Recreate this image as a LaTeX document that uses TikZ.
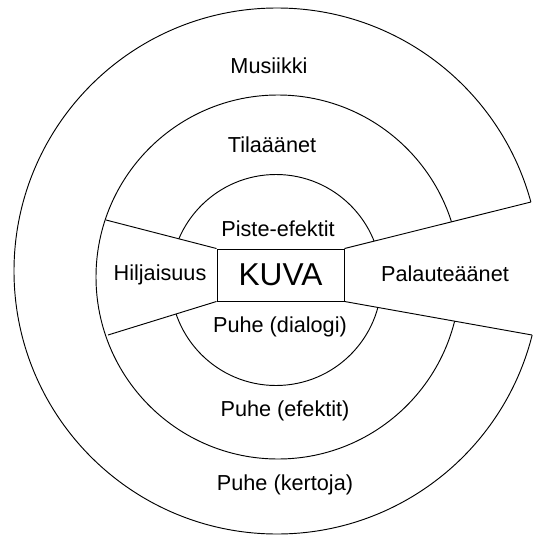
\documentclass[tikz,border=0pt]{standalone}
\usepackage{fontspec}
\setmainfont{Liberation Sans}
\usepackage{tikz}

\pgfdeclarelayer{rings}
\pgfdeclarelayer{cuts}
\pgfsetlayers{rings,cuts,main}

\begin{document}
\begin{tikzpicture}[
  x=0.03cm, y=-0.03cm,
  ring/.style={draw, line width=0.8pt},
  ringtext/.style={anchor=base, inner sep=0pt, font=\fontsize{18.5}{20}\selectfont},
  box/.style={draw, line width=0.8pt, fill=white, minimum width=3.81cm,
              minimum height=1.56cm, inner sep=0pt, font=\fontsize{27}{30}\selectfont},
]
  \useasboundingbox (0,0) rectangle (534,535);

  % Picture in the middle
  \node[box] (kuva) at (280.5,275) {KUVA};

  % Rings
  \begin{pgfonlayer}{rings}
    \draw[ring] (277,271) circle (263);
    \draw[ring] (278,277) circle (182);
    \draw[ring] (276,280) circle (105.5);
  \end{pgfonlayer}

  % Wedge ends
  \coordinate (hilU) at (106,220);
  \coordinate (hilL) at (108,335);
  \coordinate (palU) at (531,202);
  \coordinate (palL) at (532,335);

  % Cut the rings open
  \begin{pgfonlayer}{cuts}
    \fill[white] (kuva.north west) -- (hilU) -- (hilL) -- (kuva.south west) -- cycle;
    \fill[white] (kuva.north east) -- (palU) -- (545,198.5) -- (545,337.4)
      -- (palL) -- (kuva.south east) -- cycle;
  \end{pgfonlayer}

  % Wedge sides
  \draw[ring] (kuva.north west) -- (hilU);
  \draw[ring] (kuva.south west) -- (hilL);
  \draw[ring] (kuva.north east) -- (palU);
  \draw[ring] (kuva.south east) -- (palL);

  % Labels
  \node[ringtext] (musiikki) at (269,74) {Musiikki};
  \node[ringtext] (tila) at (272,152) {Tilaäänet};
  \node[ringtext] (piste) at (278,236) {Piste-efektit};
  \node[ringtext] (hiljaisuus) at (160,280) {Hiljaisuus};
  \node[ringtext] (palaute) at (445,281) {Palauteäänet};
  \node[ringtext] (dialogi) at (280,332) {Puhe (dialogi)};
  \node[ringtext] (efektit) at (285,416) {Puhe (efektit)};
  \node[ringtext] (kertoja) at (285,490) {Puhe (kertoja)};
\end{tikzpicture}
\end{document}
